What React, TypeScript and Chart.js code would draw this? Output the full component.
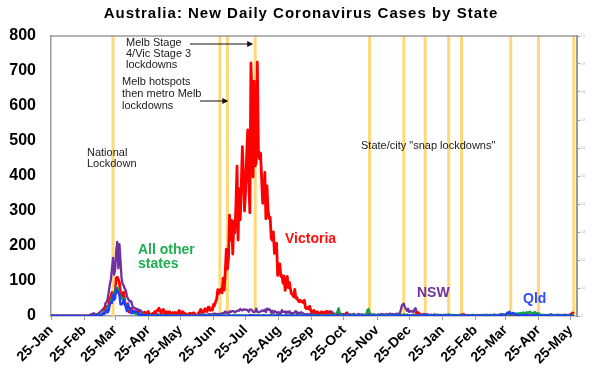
import React, { useEffect, useRef } from 'react';
import { Chart, registerables } from 'chart.js';

Chart.register(...registerables);

// ---------- data (day 0 = 25 Jan 2020, last = 28 May 2021) ----------
const START_DATE = '2020-01-25';
const X_MAX_DATE = '2021-05-31';

const tickDates = [
  '2020-01-25', '2020-02-25', '2020-03-25', '2020-04-25', '2020-05-25', '2020-06-25',
  '2020-07-25', '2020-08-25', '2020-09-25', '2020-10-25', '2020-11-25', '2020-12-25',
  '2021-01-25', '2021-02-25', '2021-03-25', '2021-04-25', '2021-05-25',
];
const tickLabels = [
  '25-Jan', '25-Feb', '25-Mar', '25-Apr', '25-May', '25-Jun', '25-Jul', '25-Aug', '25-Sep',
  '25-Oct', '25-Nov', '25-Dec', '25-Jan', '25-Feb', '25-Mar', '25-Apr', '25-May',
];
const yTicks = [0, 100, 200, 300, 400, 500, 600, 700, 800];

const lockdownDates = [
  '2020-03-23', '2020-07-01', '2020-07-08', '2020-08-03', '2020-11-18', '2020-12-20',
  '2021-01-09', '2021-01-31', '2021-02-12', '2021-03-30', '2021-04-25', '2021-05-28',
];

const victoria = [
  1,0,0,0,0,0,1,
  0,0,0,0,0,0,0,0,0,0, 0,0,0,0,0,0,0,0,0,0, 0,0,0,0,0,0,0,0,0,
  1,1,0,2,1,2,1,0,1,3, 2,4,6,7,14,22,27,23,30,51, 55,67,56,55,65,109,111,104,96,61, 66,
  49,68,40,32,30,17,11,12,22,12, 13,14,9,7,13,10,6,1,3,2, 5,11,5,5,13,1,5,4,6,3,
  12,10,15,17,22,13,9,17,19,11, 9,12,8,12,12,5,6,10,6,10, 9,7,11,16,8,7,12,9,8,5, 4,
  2,6,8,6,4,9,8,1,1,3, 8,12,19,12,13,12,21,18,13,25, 25,16,20,17,33,30,41,49,75,64,
  73,77,66,108,74,127,191,134,165,288, 216,273,177,270,238,317,428,217,363,275, 374,484,403,300,357,459,532,384,295,723, 627,
  397,671,429,439,725,471,450,466,394,322, 331,410,278,372,303,279,282,222,216,240, 179,182,208,116,148,149,113,116,94,114, 73,
  90,113,81,96,76,63,61,55,76,51, 53,45,41,45,41,42,38,45,24,21, 24,21,28,15,12,14,16,8,9,12,
  9,8,6,12,8,10,11,9,13,12, 12,4,4,2,3,1,2,0,1,2, 3,2,2,1,0,0,7,3,0,0, 0,
  0,0,0,0,0,0,0,0,0,0, 0,0,0,0,0,0,0,0,0,0, 0,0,0,0,0,0,0,0,0,0,
  0,0,0,0,0,0,0,0,0,0, 0,0,0,0,0,0,0,0,0,0, 0,0,0,0,0,0,0,0,0,0, 3,
  10,3,8,3,0,1,0,0,0,0, 0,0,0,0,0,0,0,0,0,0, 0,0,0,0,0,0,0,0,0,0, 0,
  0,0,0,1,0,1,0,0,0,1, 2,3,2,5,1,1,0,0,1,0, 0,0,0,0,0,0,0,0,
  0,0,0,0,0,0,0,0,0,0, 0,0,0,0,0,0,0,0,0,0, 0,0,0,0,0,0,0,0,0,0, 0,
  0,0,0,0,0,0,0,0,0,0, 0,0,0,0,0,0,0,0,0,0, 0,0,0,0,0,0,0,0,0,0,
  0,0,0,0,0,0,0,0,0,0, 0,0,0,0,0,0,0,0,0,0, 0,0,0,1,5,6,9,7,
];

const nsw = [
  3,1,0,0,0,0,0,
  0,0,0,0,0,0,0,0,0,0, 0,0,0,0,0,0,0,0,0,0, 0,0,0,0,0,0,0,0,0,
  2,3,6,3,8,6,4,6,0,10, 11,15,17,22,23,37,39,49,68,89, 104,133,166,118,132,186,212,136,205,158, 108,
  91,87,78,73,57,49,45,41,42,31, 24,23,22,18,20,13,17,15,9,11, 4,11,8,3,6,5,3,0,8,6,
  3,6,4,5,3,2,2,5,4,5, 2,4,3,2,3,5,6,1,2,1, 3,2,3,2,3,0,1,2,4,3, 3,
  3,1,2,3,1,2,1,4,2,3, 4,4,5,3,6,2,4,4,3,2, 6,3,5,4,7,6,7,4,6,3,
  6,7,5,9,8,13,9,10,8,13, 11,14,14,13,10,13,14,16,15,20, 17,16,19,18,18,18,16,12,19,18, 17,
  12,11,13,21,12,11,11,13,15,16, 14,18,11,21,18,20,17,9,15,8, 14,12,11,6,11,9,8,17,12,11, 13,
  8,12,10,14,6,9,7,8,11,14, 8,10,7,8,11,9,7,6,4,5, 6,3,5,8,7,3,4,10,5,5,
  6,5,4,8,8,9,7,12,10,9, 9,14,10,12,7,6,6,5,9,4, 7,3,6,5,5,4,8,10,3,4, 5,
  3,4,6,5,2,3,5,6,4,3, 5,2,4,3,5,4,6,3,2,4, 3,5,4,2,3,5,4,3,6,4,
  5,3,4,6,5,4,7,3,6,5, 4,6,5,7,4,6,15,28,33,35, 25,20,15,21,12,13,14,13,10,19, 22,
  12,9,10,6,5,3,6,4,6,3, 5,4,2,3,4,2,3,5,2,3, 4,2,3,1,2,3,2,4,1,2, 3,
  2,3,1,2,3,1,2,0,1,2, 3,1,2,1,3,2,1,2,3,1, 2,3,2,1,2,1,3,2,
  2,1,3,2,1,4,2,3,1,2, 3,2,1,4,3,2,1,2,3,5, 4,6,3,4,2,3,5,2,1,3, 2,
  2,3,1,2,4,3,2,1,3,2, 2,4,3,1,2,3,2,4,3,2, 1,3,2,4,3,2,1,2,3,2,
  3,2,1,2,3,4,5,3,2,1, 3,2,4,3,2,1,2,3,2,4, 3,1,2,3,2,1,2,3,
];

const qld = [
  0,0,0,1,0,0,1,
  0,0,0,0,1,0,1,0,0,0, 0,0,0,0,0,0,0,0,0,0, 0,0,0,0,0,0,0,0,0,
  0,1,1,1,2,2,0,2,2,1, 2,1,4,8,6,10,17,10,16,34, 40,37,60,46,50,78,68,69,59,33, 33,
  36,46,33,25,14,36,23,22,8,8, 15,12,12,13,10,3,4,3,2,4, 3,3,3,1,3,1,1,0,1,1,
  1,0,0,1,0,1,0,0,1,0, 0,1,0,0,1,0,0,0,1,0, 0,1,0,0,0,1,0,0,0,1, 0,
  0,0,1,0,0,0,1,0,0,0, 0,1,0,0,0,0,1,0,0,0, 1,0,0,0,1,0,0,0,1,0,
  0,1,0,0,0,1,0,0,1,0, 0,0,1,0,0,1,0,0,0,1, 0,0,1,0,0,1,0,0,2,3, 1,
  2,1,0,1,0,0,1,0,1,0, 1,0,0,1,0,0,0,1,0,1, 1,2,1,0,1,2,1,0,0,1, 0,
  1,0,1,0,0,1,0,0,1,0, 2,0,0,1,0,0,1,0,0,2, 0,1,0,0,0,1,0,1,0,0,
  1,0,0,1,0,0,1,0,2,0, 0,1,0,0,1,0,0,1,0,0, 1,0,0,1,0,0,1,0,2,0, 0,
  1,0,1,0,0,1,0,2,0,0, 1,0,0,1,0,0,2,0,1,0, 0,1,0,0,1,0,0,2,0,1,
  0,1,2,0,1,0,0,1,0,2, 1,0,1,0,2,1,0,1,0,2, 1,0,3,1,0,1,2,0,1,0, 1,
  1,2,0,1,0,1,0,2,1,0, 2,1,0,1,0,2,0,1,0,1, 0,1,2,0,1,0,1,0,2,0, 1,
  0,1,0,2,0,1,0,1,0,0, 2,0,1,0,1,2,0,1,0,0, 1,0,2,0,1,0,1,0,
  1,0,2,0,1,0,1,0,2,1, 0,1,2,1,0,1,0,2,1,0, 1,3,2,1,2,6,10,8,12,7, 5,
  9,8,6,4,3,2,3,2,1,2, 3,2,1,2,3,1,2,1,0,2, 1,2,3,1,0,1,2,1,0,1,
  1,0,1,2,0,1,0,1,2,0, 1,0,1,0,2,1,0,1,0,2, 1,0,1,2,0,1,0,1,
];

const otherStates = [
  0,0,0,0,0,0,0,
  0,1,0,0,0,0,0,0,0,0, 0,0,0,0,0,0,0,0,0,0, 0,0,0,0,0,0,0,0,0,
  0,0,1,0,1,2,1,2,3,3, 5,5,6,8,12,15,21,25,30,32, 45,53,60,69,70,85,80,75,62,55, 53,
  48,50,38,30,28,20,25,15,14,10, 11,7,8,6,4,5,3,5,2,6, 3,2,4,1,2,0,3,1,1,2,
  1,2,0,1,3,2,1,0,2,1, 0,1,2,0,1,3,0,1,2,1, 0,1,2,0,1,0,2,1,0,1, 2,
  1,0,1,2,0,1,2,0,1,0, 2,1,0,1,3,1,0,2,1,0, 1,2,0,1,3,1,2,0,1,2,
  1,2,0,1,2,1,0,2,1,3, 1,0,2,1,2,0,1,3,1,0, 2,1,0,1,2,1,0,2,1,3, 1,
  2,1,0,2,1,3,1,0,2,1, 3,2,1,0,2,1,3,1,2,0, 1,2,1,3,0,2,1,2,1,0, 2,
  1,2,1,0,2,1,3,1,0,2, 1,2,0,1,3,1,2,0,1,2, 1,3,2,1,0,2,1,3,2,1,
  2,1,3,2,1,0,2,1,3,2, 1,4,2,1,3,2,5,8,12,22, 9,4,2,3,1,2,3,1,2,1, 2,
  1,2,1,3,2,1,2,3,1,2, 1,2,3,2,4,17,20,9,5,3, 2,4,3,2,1,3,2,1,2,3,
  2,1,3,2,1,2,4,2,1,3, 2,1,2,3,1,2,3,4,2,5, 3,2,4,3,2,1,3,2,1,2, 3,
  2,1,3,2,1,2,1,3,2,1, 2,1,3,2,1,2,1,2,3,1, 2,1,2,3,1,2,1,3,2,4, 5,
  3,2,1,2,3,1,2,1,2,3, 1,2,1,2,1,3,2,1,2,1, 2,1,3,2,1,2,1,2,
  1,2,3,1,2,1,2,3,1,2, 3,2,1,2,3,4,2,3,1,2, 3,4,3,2,5,4,3,6,5,4, 6,
  5,7,4,6,8,5,7,9,6,8, 10,7,9,11,8,10,12,9,7,10, 8,11,9,6,8,5,4,3,2,3,
  2,1,3,2,1,2,3,1,2,1, 2,3,1,2,1,3,2,1,2,3, 1,2,1,3,2,1,2,1,
];

// ---------- styling ----------
const FONT = '"Liberation Sans", Arial, Helvetica, sans-serif';
const AXIS_GREY = '#9a9a9a';
const LOCKDOWN_COLOR = 'rgba(255, 210, 95, 0.85)';

const dayOf = (iso: string): number => {
  const [y, m, d] = iso.split('-').map(Number);
  const [y0, m0, d0] = START_DATE.split('-').map(Number);
  return Math.round((Date.UTC(y, m - 1, d) - Date.UTC(y0, m0 - 1, d0)) / 86400000);
};

const toPoints = (arr: number[]) => arr.map((v, i) => ({ x: i, y: v }));

const annotationPlugin = {
  id: 'covidAnnotations',
  beforeDatasetsDraw(chart: any) {
    const { ctx, chartArea, scales } = chart;
    const x = scales.x;
    ctx.save();
    ctx.strokeStyle = LOCKDOWN_COLOR;
    ctx.lineWidth = 3;
    lockdownDates.forEach((d) => {
      const px = x.getPixelForValue(dayOf(d));
      ctx.beginPath();
      ctx.moveTo(px, chartArea.top);
      ctx.lineTo(px, chartArea.bottom);
      ctx.stroke();
    });
    ctx.restore();
  },
  afterDraw(chart: any) {
    const { ctx, chartArea, scales } = chart;
    const x = scales.x;
    ctx.save();
    // top frame line
    ctx.strokeStyle = AXIS_GREY;
    ctx.lineWidth = 1.5;
    ctx.beginPath();
    ctx.moveTo(chartArea.left, chartArea.top);
    ctx.lineTo(chartArea.right, chartArea.top);
    ctx.stroke();

    // title
    ctx.fillStyle = '#000';
    ctx.textAlign = 'center';
    ctx.textBaseline = 'middle';
    ctx.font = `bold 15px ${FONT}`;
    (ctx as any).letterSpacing = '1px';
    ctx.fillText('Australia: New Daily Coronavirus Cases by State', 301, 14);
    (ctx as any).letterSpacing = '0px';

    // annotation notes
    ctx.textAlign = 'left';
    ctx.font = `11px ${FONT}`;
    ctx.fillStyle = '#1a1a1a';
    const notes: [string, number, number][] = [
      ['Melb Stage', 126, 43],
      ['4/Vic Stage 3', 126, 54],
      ['lockdowns', 126, 65],
      ['Melb hotspots', 122, 82],
      ['then metro Melb', 122, 94],
      ['lockdowns', 122, 106],
      ['National', 87, 153],
      ['Lockdown', 87, 164],
      ['State/city "snap lockdowns"', 361, 146],
    ];
    notes.forEach(([t, tx, ty]) => ctx.fillText(t, tx, ty));

    // arrows pointing at lockdown lines
    const arrow = (x0: number, x1: number, y: number) => {
      ctx.strokeStyle = '#111';
      ctx.fillStyle = '#111';
      ctx.lineWidth = 1;
      ctx.beginPath();
      ctx.moveTo(x0, y);
      ctx.lineTo(x1 - 5, y);
      ctx.stroke();
      ctx.beginPath();
      ctx.moveTo(x1, y);
      ctx.lineTo(x1 - 6, y - 3);
      ctx.lineTo(x1 - 6, y + 3);
      ctx.closePath();
      ctx.fill();
    };
    arrow(190, x.getPixelForValue(dayOf('2020-08-03')) - 2, 44);
    arrow(200, x.getPixelForValue(dayOf('2020-07-08')) + 1, 101);

    // series labels
    ctx.font = `bold 14px ${FONT}`;
    const labels: [string, string, number, number][] = [
      ['All other', '#1fae50', 138, 250],
      ['states', '#1fae50', 138, 264],
      ['Victoria', '#ff1010', 285, 239],
      ['NSW', '#7030a0', 417, 293],
      ['Qld', '#2f4dff', 523, 299],
    ];
    labels.forEach(([t, c, tx, ty]) => {
      ctx.fillStyle = c;
      ctx.fillText(t, tx, ty);
    });
    ctx.restore();
  },
};

export default function App() {
  const canvasRef = useRef<HTMLCanvasElement | null>(null);

  useEffect(() => {
    if (!canvasRef.current) return;
    const tickDays = tickDates.map(dayOf);
    const chart = new Chart(canvasRef.current, {
      type: 'line',
      data: {
        datasets: [
          { label: 'Qld', data: toPoints(qld), borderColor: '#1f3cff', borderWidth: 2.3, order: 0 },
          { label: 'All other states', data: toPoints(otherStates), borderColor: '#12a046', borderWidth: 2.3, order: 1 },
          { label: 'Victoria', data: toPoints(victoria), borderColor: '#ff0000', borderWidth: 2.8, order: 2 },
          { label: 'NSW', data: toPoints(nsw), borderColor: '#7030a0', borderWidth: 2.3, order: 3 },
        ],
      },
      options: {
        animation: false,
        responsive: false,
        devicePixelRatio: 1,
        layout: { padding: { top: 36, left: 0, right: 0, bottom: 0 } },
        elements: {
          point: { radius: 0 },
          line: { tension: 0, fill: false, borderJoinStyle: 'round' },
        },
        plugins: { legend: { display: false }, title: { display: false }, tooltip: { enabled: false } },
        scales: {
          x: {
            type: 'linear',
            min: 0,
            max: dayOf(X_MAX_DATE),
            afterBuildTicks: (s: any) => {
              s.ticks = tickDays.map((v) => ({ value: v }));
            },
            afterFit: (s: any) => {
              s.height = 58;
            },
            ticks: {
              autoSkip: false,
              minRotation: 45,
              maxRotation: 45,
              padding: 2,
              color: '#000',
              font: { family: FONT, size: 14, weight: 'bold' },
              callback: (_v: any, i: number) => tickLabels[i],
            },
            grid: { drawOnChartArea: false, drawTicks: true, tickLength: 4, color: AXIS_GREY },
            border: { color: AXIS_GREY, width: 1.5 },
          },
          y: {
            position: 'left',
            min: 0,
            max: 800,
            afterBuildTicks: (s: any) => {
              s.ticks = yTicks.map((v) => ({ value: v }));
            },
            afterFit: (s: any) => {
              s.width = 51;
            },
            ticks: {
              padding: 15,
              color: '#000',
              font: { family: FONT, size: 16, weight: 'bold' },
            },
            grid: { drawOnChartArea: false, drawTicks: false },
            border: { color: AXIS_GREY, width: 1.5 },
          },
          y2: {
            position: 'right',
            min: 0,
            max: 1,
            ticks: { stepSize: 0.1, color: '#aaa', padding: 1, font: { family: FONT, size: 3 } },
            afterFit: (s: any) => {
              s.width = 15;
            },
            grid: { drawOnChartArea: false, drawTicks: true, tickLength: 3, color: AXIS_GREY },
            border: { color: AXIS_GREY, width: 2 },
          },
        },
      } as any,
      plugins: [annotationPlugin],
    });
    return () => chart.destroy();
  }, []);

  return (
    <div style={{ position: 'absolute', left: 0, top: 0, width: 592, height: 374, background: '#fff' }}>
      <canvas ref={canvasRef} width={592} height={374} style={{ display: 'block' }} />
    </div>
  );
}
